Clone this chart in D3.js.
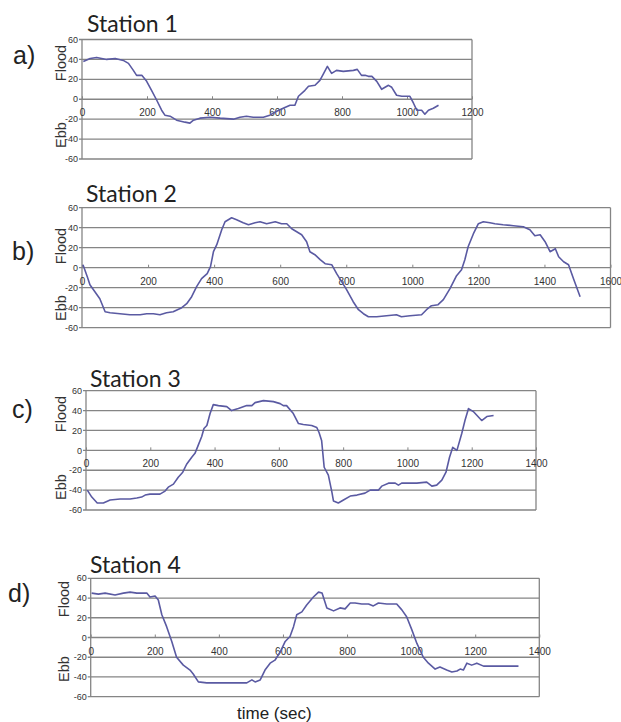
<!DOCTYPE html>
<html>
<head>
<meta charset="utf-8">
<script src="https://cdn.jsdelivr.net/npm/d3@7"></script>
<style>
  body { margin: 0; background: #fff; }
  svg { display: block; }
</style>
</head>
<body>
<div id="chart"></div>
<script>
// current speed (cm/s) against time (sec)
const s1Time = [4, 25, 45, 76, 102, 127, 143, 158, 168, 184, 199, 214, 230, 245, 255, 271, 291, 317, 332, 343, 363, 394, 425, 466, 486, 506, 527, 558, 578, 599, 619, 640, 655, 666, 686, 697, 717, 732, 742, 755, 768, 783, 804, 835, 847, 860, 871, 881, 892, 907, 922, 943, 953, 968, 984, 1009, 1020, 1030, 1045, 1055, 1066, 1081, 1097]
const s1Speed = [38, 41, 42, 40, 41, 39, 36, 29, 24, 24, 18, 9, -1, -11, -16, -17, -21, -23, -24, -21, -19, -18, -19, -20, -18, -17, -18, -18, -16, -12, -9, -6, -6, 3, 9, 13, 14, 19, 25, 33, 26, 29, 28, 29, 30, 24, 24, 23, 23, 18, 10, 14, 12, 4, 3, 3, -4, -11, -11, -15, -11, -9, -6]

const s2Time = [3, 16, 24, 39, 54, 70, 85, 115, 145, 176, 196, 216, 236, 256, 276, 302, 317, 332, 347, 362, 379, 389, 398, 408, 423, 433, 453, 468, 488, 504, 524, 539, 559, 585, 604, 620, 635, 650, 665, 680, 690, 705, 721, 736, 756, 771, 786, 801, 821, 837, 852, 867, 892, 922, 952, 967, 993, 1028, 1043, 1058, 1078, 1094, 1114, 1134, 1149, 1159, 1169, 1185, 1200, 1215, 1235, 1250, 1275, 1306, 1336, 1356, 1371, 1387, 1402, 1417, 1433, 1443, 1458, 1473, 1488, 1508]
const s2Speed = [3, -9, -17, -24, -31, -44, -45, -46, -47, -47, -46, -46, -47, -45, -44, -40, -36, -29, -19, -11, -6, 1, 16, 23, 38, 46, 50, 48, 45, 43, 45, 46, 44, 46, 44, 44, 39, 36, 33, 26, 16, 13, 8, 4, 3, -6, -14, -22, -34, -42, -46, -49, -49, -48, -47, -49, -48, -47, -42, -38, -37, -32, -21, -8, -2, 8, 21, 34, 44, 46, 45, 44, 43, 42, 41, 38, 32, 33, 26, 16, 19, 11, 6, 3, -11, -29]

const s3Time = [4, 18, 35, 54, 75, 106, 137, 158, 173, 184, 199, 230, 246, 256, 272, 287, 301, 313, 329, 339, 349, 360, 367, 376, 386, 396, 412, 438, 453, 474, 500, 516, 526, 552, 583, 604, 614, 624, 645, 661, 676, 702, 718, 725, 733, 741, 754, 765, 770, 785, 801, 822, 843, 868, 884, 910, 920, 941, 962, 972, 982, 1003, 1029, 1060, 1076, 1091, 1107, 1120, 1131, 1141, 1154, 1169, 1179, 1190, 1205, 1231, 1247, 1268]
const s3Speed = [-40, -47, -53, -53, -50, -49, -49, -48, -47, -45, -44, -44, -41, -37, -34, -27, -22, -14, -7, -3, 5, 14, 22, 25, 37, 46, 45, 44, 40, 42, 45, 45, 48, 50, 49, 47, 45, 45, 37, 27, 26, 25, 23, 18, 10, -17, -25, -42, -51, -53, -50, -46, -45, -43, -40, -40, -36, -33, -33, -35, -33, -33, -33, -32, -36, -35, -30, -22, -7, 3, 0, 17, 30, 42, 39, 30, 34, 35]

const s4Time = [3, 24, 45, 76, 102, 123, 144, 175, 185, 201, 211, 222, 237, 253, 268, 289, 310, 320, 336, 362, 425, 487, 503, 513, 529, 544, 560, 575, 591, 607, 622, 633, 643, 659, 674, 695, 711, 722, 737, 758, 778, 794, 810, 825, 846, 867, 882, 898, 924, 955, 971, 986, 1002, 1018, 1038, 1054, 1075, 1090, 1111, 1127, 1143, 1153, 1163, 1174, 1189, 1205, 1226, 1257, 1299, 1335]
const s4Speed = [45, 44, 45, 43, 45, 46, 45, 45, 41, 42, 38, 23, 11, -4, -20, -28, -33, -37, -45, -46, -46, -46, -43, -45, -43, -33, -26, -23, -15, -4, 1, 11, 23, 26, 33, 41, 46, 45, 30, 27, 30, 29, 35, 35, 34, 34, 32, 35, 34, 34, 28, 21, 8, -6, -20, -26, -32, -30, -33, -35, -34, -32, -33, -26, -28, -26, -29, -29, -29, -29]

const stationNames = ['Station 1', 'Station 2', 'Station 3', 'Station 4']
const panelLetters = ['a)', 'b)', 'c)', 'd)']
const timeMax = [1200, 1600, 1400, 1400]
const speedTicks = [-60, -40, -20, 0, 20, 40, 60]

const series = [
  [s1Time, s1Speed],
  [s2Time, s2Speed],
  [s3Time, s3Speed],
  [s4Time, s4Speed]
]

// where each plot box sits on the page
const layout = [
  { left: 82, right: 472, top: 39.5, bottom: 159, titleX: 87, titleY: 32, letterX: 13, letterY: 64, labelX: 66, floodY: 63, ebbY: 135 },
  { left: 82, right: 610.5, top: 207.7, bottom: 327.7, titleX: 86, titleY: 202, letterX: 12, letterY: 260, labelX: 66, floodY: 246, ebbY: 308 },
  { left: 86, right: 536, top: 390.7, bottom: 510, titleX: 90, titleY: 387, letterX: 12, letterY: 418, labelX: 66, floodY: 414, ebbY: 487 },
  { left: 90.7, right: 539.3, top: 578.3, bottom: 696.7, titleX: 90, titleY: 573, letterX: 8, letterY: 602, labelX: 69, floodY: 599, ebbY: 669 }
]

const W = 621
const H = 722
const gridColor = '#858585'
const lineColor = '#5a5aa2'
const tickFont = 'Liberation Sans, Arial, sans-serif'

const svg = d3.select('#chart').append('svg')
  .attr('width', W)
  .attr('height', H)

series.forEach((s, i) => {
  const L = layout[i]
  const x = d3.scaleLinear().domain([0, timeMax[i]]).range([L.left, L.right])
  const y = d3.scaleLinear().domain([-60, 60]).range([L.bottom, L.top])
  const g = svg.append('g')

  // horizontal gridlines (with the short tick poking out on the left)
  g.selectAll('line.grid')
    .data(speedTicks)
    .join('line')
    .attr('class', 'grid')
    .attr('x1', L.left - 3)
    .attr('x2', L.right)
    .attr('y1', d => y(d))
    .attr('y2', d => y(d))
    .attr('stroke', gridColor)
    .attr('stroke-width', 1.3)

  // box sides
  g.append('line')
    .attr('x1', x(0)).attr('x2', x(0))
    .attr('y1', y(60)).attr('y2', y(-60))
    .attr('stroke', gridColor).attr('stroke-width', 1.3)
  g.append('line')
    .attr('x1', x(timeMax[i])).attr('x2', x(timeMax[i]))
    .attr('y1', y(60)).attr('y2', y(-60))
    .attr('stroke', gridColor).attr('stroke-width', 1.3)

  // y tick labels
  g.selectAll('text.ylab')
    .data(speedTicks)
    .join('text')
    .attr('class', 'ylab')
    .attr('x', L.left - 4)
    .attr('y', d => y(d))
    .attr('dy', '0.35em')
    .attr('text-anchor', 'end')
    .attr('font-family', tickFont)
    .attr('font-size', 9)
    .attr('fill', '#333')
    .text(d => d)

  // x axis along the zero line
  const xAxis = d3.axisBottom(x)
    .tickValues(d3.range(0, timeMax[i] + 1, 200))
    .tickFormat(d3.format('d'))
    .tickSize(-3)
    .tickPadding(10)
  const ax = g.append('g')
    .attr('transform', `translate(0,${ y(0) })`)
    .attr('font-family', tickFont)
    .attr('font-size', 9)
    .call(xAxis)
  ax.select('.domain').remove()
  ax.selectAll('.tick line').attr('stroke', gridColor)
  ax.selectAll('.tick text').attr('fill', '#333')

  // the record itself
  const pts = d3.zip(s[0], s[1])
  g.append('path')
    .datum(pts)
    .attr('fill', 'none')
    .attr('stroke', lineColor)
    .attr('stroke-width', 1.6)
    .attr('stroke-linejoin', 'round')
    .attr('d', d3.line().x(d => x(d[0])).y(d => y(d[1])))

  // titles and labels
  g.append('text')
    .attr('x', L.titleX)
    .attr('y', L.titleY)
    .attr('font-family', 'Lato, Open Sans, sans-serif')
    .attr('font-size', 23)
    .attr('fill', '#222')
    .text(stationNames[i])

  g.append('text')
    .attr('x', L.letterX)
    .attr('y', L.letterY)
    .attr('font-family', tickFont)
    .attr('font-size', 25)
    .attr('fill', '#222')
    .text(panelLetters[i])

  g.append('text')
    .attr('transform', `translate(${ L.labelX },${ L.floodY }) rotate(-90)`)
    .attr('text-anchor', 'middle')
    .attr('font-family', tickFont)
    .attr('font-size', 14.5)
    .attr('fill', '#333')
    .text('Flood')

  g.append('text')
    .attr('transform', `translate(${ L.labelX },${ L.ebbY }) rotate(-90)`)
    .attr('text-anchor', 'middle')
    .attr('font-family', tickFont)
    .attr('font-size', 14.5)
    .attr('fill', '#333')
    .text('Ebb')
})

svg.append('text')
  .attr('x', 237)
  .attr('y', 719)
  .attr('font-family', tickFont)
  .attr('font-size', 17)
  .attr('fill', '#222')
  .text('time (sec)')
</script>
</body>
</html>
